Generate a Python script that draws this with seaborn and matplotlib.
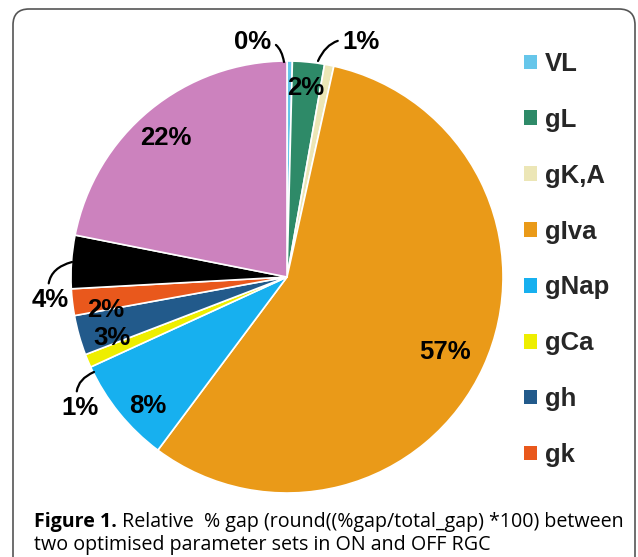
import matplotlib
matplotlib.use("Agg")
import matplotlib.pyplot as plt
from matplotlib.patches import FancyBboxPatch, Patch
import seaborn as sns

# Share of the total gap per conductance (percent), clockwise from 12 o'clock
categories = ["VL", "gL", "gK,A", "gIva", "gNap", "gCa", "gh", "gk", "gKCa", "gNa"]
gap_share = [0.4, 2.4, 0.7, 57, 8, 1, 3, 2, 4, 22]
colors = ["#66c6ea", "#2e8a68", "#ece6b6", "#ea9a18", "#17b0ef",
          "#eeee00", "#225a8b", "#e9581c", "#000000", "#cc82be"]
legend_items = 8  # entries listed beside the pie

sns.set_theme(style="white")
plt.rcParams["font.family"] = ["Liberation Sans", "DejaVu Sans"]

W, H = 638, 557
fig = plt.figure(figsize=(W / 100, H / 100), dpi=100)
ax = fig.add_axes([0, 0, 1, 1])

cx, cy, R = 287, H - 277, 216
wedges, _ = ax.pie(gap_share, colors=colors, startangle=90, counterclock=False,
                   center=(cx, cy), radius=R,
                   wedgeprops=dict(edgecolor="white", linewidth=1.2))
ax.set_xlim(0, W)
ax.set_ylim(0, H)
ax.set_aspect("equal")
ax.axis("off")

lab = [f"{round(v)}%" for v in gap_share]
tkw = dict(fontsize=18.5, fontweight="bold", ha="center", va="center", color="black")

def py(y):
    return H - y

# labels inside the wedges
inside = {1: (306, 88), 3: (445, 352), 4: (148, 406), 6: (112, 338),
          7: (106, 310), 9: (166, 138)}
for i, (x, y) in inside.items():
    ax.text(x, py(y), lab[i], **tkw)

# labels outside with curved leaders
outside = {0: ((253, 42), (284, 62), -0.55),
           2: ((361, 42), (318, 61), 0.45),
           5: ((80, 408), (94, 372), -0.5),
           8: ((50, 300), (72, 262), -0.5)}
for i, ((tx, ty), (px, pyy), rad) in outside.items():
    ax.annotate(lab[i], xy=(px, py(pyy)), xytext=(tx, py(ty)), **tkw,
                arrowprops=dict(arrowstyle="-", color="black", lw=1.6,
                                connectionstyle=f"arc3,rad={rad}",
                                shrinkA=1, shrinkB=0))

# legend
handles = [Patch(facecolor=colors[i], edgecolor="none") for i in range(legend_items)]
leg = ax.legend(handles, categories[:legend_items], loc="upper left",
                bbox_to_anchor=(524 / W, 1 - 52 / H), frameon=False,
                prop=dict(family="Liberation Sans", weight="bold", size=18.5),
                handlelength=0.5, handleheight=0.5, handletextpad=0.3,
                labelspacing=1.24, borderpad=0, borderaxespad=0)

# rounded frame
frame = FancyBboxPatch((13, -30), 622, H - 9 + 30, boxstyle="round,pad=0,rounding_size=16",
                       transform=ax.transData, facecolor="none", edgecolor="#555555",
                       linewidth=1.2, clip_on=False)
ax.add_patch(frame)

# caption
cfs = 14.1
cap = dict(fontsize=cfs, family="Open Sans", color="black", va="baseline")
t1 = ax.text(34, py(527), "Figure 1.", fontweight="bold", **cap)
ax.annotate(" Relative  % gap (round((%gap/total_gap) *100) between",
            xy=(1, 0), xycoords=t1, va="bottom", ha="left",
            fontsize=cfs, family="Open Sans", color="black")
ax.text(34, py(550), "two optimised parameter sets in ON and OFF RGC", **cap)

fig.savefig("out.png", dpi=100)
